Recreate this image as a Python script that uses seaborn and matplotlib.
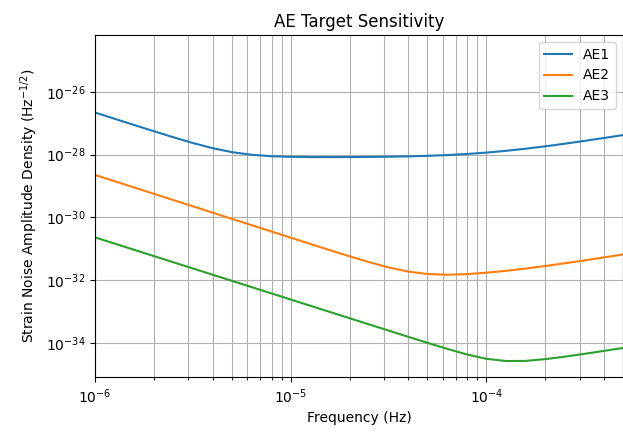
import numpy as np
import pandas as pd
import matplotlib
matplotlib.use("Agg")
import matplotlib.pyplot as plt
import matplotlib.ticker as mticker
import seaborn as sns

# Frequency grid (Hz), tenth-of-a-decade steps
freq = [1.000e-6, 1.259e-6, 1.585e-6, 1.995e-6, 2.512e-6, 3.162e-6, 3.981e-6,
        5.012e-6, 6.310e-6, 7.943e-6,
        1.000e-5, 1.259e-5, 1.585e-5, 1.995e-5, 2.512e-5, 3.162e-5, 3.981e-5,
        5.012e-5, 6.310e-5, 7.943e-5,
        1.000e-4, 1.259e-4, 1.585e-4, 1.995e-4, 2.512e-4, 3.162e-4, 3.981e-4,
        5.012e-4]

# Strain noise amplitude density, as log10 of Hz^-1/2
ae1_log10 = [-26.660, -26.860, -27.058, -27.255, -27.448, -27.632, -27.795,
             -27.924, -28.008, -28.053, -28.072, -28.080, -28.082, -28.080,
             -28.076, -28.069, -28.058, -28.041, -28.016, -27.983, -27.938,
             -27.882, -27.815, -27.739, -27.656, -27.567, -27.474, -27.379]
ae2_log10 = [-28.650, -28.850, -29.050, -29.250, -29.450, -29.650, -29.850,
             -30.050, -30.250, -30.450, -30.649, -30.849, -31.047, -31.241,
             -31.428, -31.597, -31.730, -31.809, -31.831, -31.812, -31.767,
             -31.707, -31.635, -31.554, -31.467, -31.375, -31.280, -31.184]
ae3_log10 = [-30.640, -30.838, -31.036, -31.234, -31.432, -31.630, -31.828,
             -32.026, -32.224, -32.422, -32.620, -32.818, -33.016, -33.214,
             -33.412, -33.609, -33.807, -34.002, -34.192, -34.370, -34.510,
             -34.581, -34.578, -34.522, -34.443, -34.354, -34.260, -34.164]

series_names = ["AE1", "AE2", "AE3"]
series_values = [ae1_log10, ae2_log10, ae3_log10]
colors = sns.color_palette("tab10", 3)

y_ticks = [1e-26, 1e-28, 1e-30, 1e-32, 1e-34]

frames = []
for name, vals in zip(series_names, series_values):
    frames.append(pd.DataFrame({"freq": freq,
                                "asd": 10.0 ** np.array(vals),
                                "series": name}))
df = pd.concat(frames, ignore_index=True)

fig = plt.figure(figsize=(6.23, 4.36), dpi=100)
ax = fig.add_axes([95 / 623, 1 - 377.3 / 436, 1 - 95 / 623, (377.3 - 35) / 436])

for name, color in zip(series_names, colors):
    sub = df[df["series"] == name]
    sns.lineplot(data=sub, x="freq", y="asd", ax=ax, color=color,
                 label=name, linewidth=1.5, estimator=None, sort=True)

ax.set_xscale("log")
ax.set_yscale("log")
ax.set_xlim(1e-6, 5e-4)
ax.set_ylim(10 ** -35.1, 10 ** -24.19)
ax.yaxis.set_major_locator(mticker.FixedLocator(y_ticks))
ax.yaxis.set_minor_locator(mticker.NullLocator())

ax.grid(True, which="major", axis="both", color="#b0b0b0", linewidth=0.8)
ax.grid(True, which="minor", axis="x", color="#b0b0b0", linewidth=0.8)

ax.set_title("AE Target Sensitivity", fontsize=12)
ax.set_xlabel("Frequency (Hz)")
ax.set_ylabel("Strain Noise Amplitude Density (Hz$^{-1/2}$)")
ax.legend(loc="upper right")

fig.savefig("out.png", dpi=100)
